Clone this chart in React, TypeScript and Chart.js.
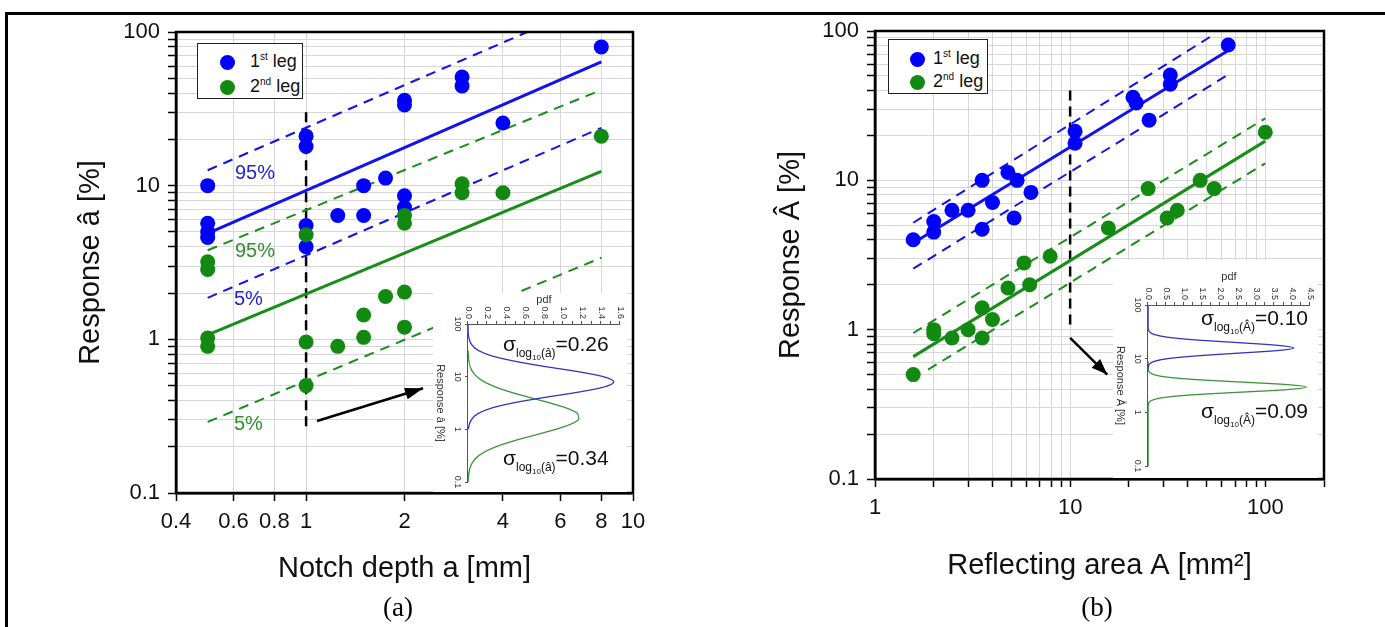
import React, { useEffect, useRef } from 'react';
import { Chart, registerables } from 'chart.js';

Chart.register(...registerables);

const SANS = '"Liberation Sans", Arial, Helvetica, sans-serif';
const SERIF = '"Liberation Serif", "Times New Roman", serif';

const BLUE = '#0000ff';
const GREEN = '#128a12';
const BLUE_LINE = '#1212ee';
const GREEN_LINE = '#1a8c1a';
const BLUE_TEXT = '#2424d4';
const GREEN_TEXT = '#2f8f2f';

// ---------------- (a) response vs notch depth ----------------
const depthBlueA = [0.5, 0.5, 0.5, 0.5, 1, 1, 1, 1, 1.25, 1.5, 1.5, 1.75, 2, 2, 2, 2, 3, 3, 4, 8];
const respBlueA = [10, 5.7, 5.0, 4.6, 21, 18, 5.5, 4.0, 6.4, 10, 6.4, 11.2, 36, 33.5, 8.6, 7.2, 51, 44.6, 25.6, 80];
const depthGreenA = [0.5, 0.5, 0.5, 0.5, 1, 1, 1, 1.25, 1.5, 1.5, 1.75, 2, 2, 2, 2, 3, 3, 4, 8];
const respGreenA = [3.2, 2.85, 1.02, 0.9, 4.8, 0.96, 0.5, 0.9, 1.44, 1.03, 1.9, 6.4, 5.7, 2.03, 1.2, 10.3, 9.0, 9.0, 21];

const fitXA = [0.5, 8];
const blueFitA = [4.9, 64];
const blueUpperXA = [0.5, 4.75];
const blueUpperA = [12.6, 100];
const blueLowerA = [1.86, 23.8];
const greenFitA = [1.07, 12.4];
const greenUpperA = [3.8, 42];
const greenLowerA = [0.29, 3.4];
const markerXA = [1, 1];
const markerYA = [30, 0.27];
const arrowXA = [1.08, 2.28];
const arrowYA = [0.294, 0.48];

// ---------------- (b) response vs reflecting area ----------------
const areaBlueB = [1.57, 2.0, 2.0, 2.48, 3.0, 3.54, 3.54, 4.0, 4.8, 5.35, 5.16, 6.3, 10.6, 10.6, 21, 21.8, 25.4, 32.6, 32.6, 64.6];
const respBlueB = [4.0, 4.5, 5.3, 6.3, 6.3, 4.7, 10, 7.1, 11.3, 10, 5.6, 8.3, 21.3, 17.7, 36, 33, 25.3, 50.7, 44, 80.5];
const areaGreenB = [1.57, 2.0, 2.0, 2.48, 3.0, 3.54, 3.54, 4.0, 4.8, 6.2, 5.8, 7.9, 15.7, 25.1, 31.4, 35.4, 46.4, 54.7, 100];
const respGreenB = [0.5, 1.0, 0.94, 0.88, 1.0, 0.88, 1.4, 1.17, 1.9, 2.0, 2.8, 3.1, 4.8, 8.8, 5.6, 6.3, 10, 8.8, 21];

const blueFitXB = [1.57, 64.6];
const blueFitB = [3.8, 74];
const blueUpperXB = [1.57, 54];
const blueUpperB = [5.2, 94];
const blueLowerXB = [1.57, 66];
const blueLowerB = [2.56, 52];
const greenXB = [1.57, 100];
const greenFitB = [0.66, 18.3];
const greenUpperB = [0.95, 26];
const greenLowerXB = [1.87, 100];
const greenLowerB = [0.54, 13];
const markerXB = [10, 10];
const markerYB = [40, 1.0];
const arrowXB = [10, 15.5];
const arrowYB = [0.88, 0.5];

// ---------------- ticks ----------------
const responseTicks = [0.1, 0.2, 0.3, 0.4, 0.5, 0.6, 0.7, 0.8, 0.9, 1, 2, 3, 4, 5, 6, 7, 8, 9, 10, 20, 30, 40, 50, 60, 70, 80, 90, 100];
const responseLabels = [0.1, 1, 10, 100];
const depthTicks = [0.4, 0.6, 0.8, 1, 2, 4, 6, 8, 10];
const depthLabels = [0.4, 0.6, 0.8, 1, 2, 4, 6, 8, 10];
const areaTicks = [1, 2, 3, 4, 5, 6, 7, 8, 9, 10, 20, 30, 40, 50, 60, 70, 80, 90, 100, 200];
const areaLabels = [1, 10, 100];

// ---------------- insets (pdf of log response) ----------------
const insetRespTicks = [0.1, 1, 10, 100];
const pdfTicksA = [0, 0.1, 0.2, 0.3, 0.4, 0.5, 0.6, 0.7, 0.8, 0.9, 1.0, 1.1, 1.2, 1.3, 1.4, 1.5, 1.6];
const pdfLabelsA = [0, 0.2, 0.4, 0.6, 0.8, 1.0, 1.2, 1.4, 1.6];
const pdfTicksB = [0, 0.25, 0.5, 0.75, 1.0, 1.25, 1.5, 1.75, 2.0, 2.25, 2.5, 2.75, 3.0, 3.25, 3.5, 3.75, 4.0, 4.25, 4.5];
const pdfLabelsB = [0, 0.5, 1.0, 1.5, 2.0, 2.5, 3.0, 3.5, 4.0, 4.5];

const curveRespBlueA = [100, 63.1, 50.1, 39.8, 31.6, 25.1, 20, 15.8, 12.6, 10, 7.94, 6.31, 5.01, 3.98, 3.16, 2.51, 2.0, 1.58, 1.26, 1.0];
const curvePdfBlueA = [0, 0.004, 0.0135, 0.041, 0.107, 0.241, 0.47, 0.788, 1.141, 1.425, 1.534, 1.425, 1.141, 0.788, 0.47, 0.241, 0.107, 0.041, 0.0135, 0.004];
const curveRespGreenA = [31.6, 25.1, 20, 15.8, 12.6, 10, 7.94, 6.31, 5.01, 3.98, 3.16, 2.51, 2.0, 1.58, 1.26, 1.0, 0.794, 0.631, 0.501, 0.398, 0.316, 0.251, 0.2, 0.158, 0.126, 0.1];
const curvePdfGreenA = [0.0012, 0.0033, 0.0087, 0.021, 0.046, 0.093, 0.173, 0.295, 0.461, 0.659, 0.866, 1.043, 1.152, 1.167, 1.084, 0.924, 0.722, 0.518, 0.34, 0.205, 0.113, 0.0575, 0.0268, 0.0114, 0.0045, 0.0016];

const curveRespBlueB = [100, 39.8, 35.5, 31.6, 28.2, 25.1, 22.4, 20, 17.8, 15.8, 14.1, 12.6, 11.2, 10, 8.91, 7.94, 7.08, 6.31];
const curvePdfBlueB = [0, 0.0013, 0.0087, 0.044, 0.175, 0.54, 1.3, 2.45, 3.57, 4.05, 3.57, 2.45, 1.3, 0.54, 0.175, 0.044, 0.0087, 0.0013];
const curveRespGreenB = [8.91, 6.76, 5.89, 5.25, 4.68, 4.17, 3.72, 3.31, 2.95, 2.63, 2.34, 2.09, 1.86, 1.66, 1.48, 1.29, 0.1];
const curvePdfGreenB = [0, 0.0015, 0.017, 0.094, 0.375, 1.105, 2.39, 3.8, 4.4, 3.8, 2.39, 1.105, 0.375, 0.094, 0.017, 0.0015, 0];

// ---------------- helpers ----------------
const zip = (xs: number[], ys: number[]) => xs.map((x, i) => ({ x, y: ys[i] }));

const scatterDs = (label: string, xs: number[], ys: number[], color: string) => ({
  label,
  data: zip(xs, ys),
  backgroundColor: color,
  borderColor: color,
  pointRadius: 7.5,
  pointBorderWidth: 0,
  showLine: false,
});

const lineDs = (label: string, xs: number[], ys: number[], color: string, width: number, dash: number[] = []) => ({
  label,
  data: zip(xs, ys),
  borderColor: color,
  backgroundColor: color,
  borderWidth: width,
  borderDash: dash,
  pointRadius: 0,
  showLine: true,
  fill: false,
});

const framePlugin = {
  id: 'frame',
  afterDatasetsDraw(chart: any) {
    const { ctx, chartArea: a } = chart;
    ctx.save();
    ctx.strokeStyle = '#000';
    ctx.lineWidth = 2.5;
    ctx.strokeRect(a.left, a.top, a.right - a.left, a.bottom - a.top);
    ctx.restore();
  },
};

const arrowPlugin = {
  id: 'arrowHead',
  afterDatasetsDraw(chart: any) {
    const ctx = chart.ctx;
    chart.data.datasets.forEach((ds: any, i: number) => {
      if (!ds.arrowHead) return;
      const pts = chart.getDatasetMeta(i).data;
      const p1 = pts[pts.length - 2];
      const p2 = pts[pts.length - 1];
      const ang = Math.atan2(p2.y - p1.y, p2.x - p1.x);
      const L = ds.arrowHead.length;
      const W = ds.arrowHead.width;
      const bx = p2.x - L * Math.cos(ang);
      const by = p2.y - L * Math.sin(ang);
      ctx.save();
      ctx.fillStyle = ds.borderColor;
      ctx.beginPath();
      ctx.moveTo(p2.x, p2.y);
      ctx.lineTo(bx + W * Math.sin(ang), by - W * Math.cos(ang));
      ctx.lineTo(bx - W * Math.sin(ang), by + W * Math.cos(ang));
      ctx.closePath();
      ctx.fill();
      ctx.restore();
    });
  },
};

function logAxis(ticks: number[], labels: number[], min: number, max: number, title: string) {
  return {
    type: 'logarithmic',
    min,
    max,
    afterBuildTicks: (s: any) => {
      s.ticks = ticks.map((v) => ({ value: v }));
    },
    ticks: {
      autoSkip: false,
      maxRotation: 0,
      minRotation: 0,
      padding: 8,
      color: '#111',
      font: { family: SANS, size: 22 },
      callback: (v: any) => (labels.includes(v) ? String(v) : ''),
    },
    grid: { color: '#d6d6d6', lineWidth: 1, tickColor: '#000', tickLength: 8, tickWidth: 1.5 },
    border: { color: '#000', width: 2.5 },
    title: { display: true, text: title, color: '#111', font: { family: SANS, size: 29 }, padding: 0 },
  };
}

function mainConfig(p: any) {
  return () => ({
    type: 'scatter',
    data: { datasets: p.datasets },
    options: {
      responsive: false,
      animation: false,
      events: [],
      layout: { padding: p.padding },
      plugins: { legend: { display: false }, tooltip: { enabled: false } },
      scales: {
        x: {
          ...logAxis(p.xTicks, p.xLabels, p.xMin, p.xMax, p.xTitle),
          position: 'bottom',
          afterFit: (s: any) => {
            s.height = p.xHeight;
            s.paddingLeft = 0;
            s.paddingRight = 0;
          },
        },
        y: {
          ...logAxis(responseTicks, responseLabels, 0.1, 100, p.yTitle),
          position: 'left',
          afterFit: (s: any) => {
            s.width = p.yWidth;
            s.paddingTop = 0;
            s.paddingBottom = 0;
          },
        },
      },
    },
    plugins: [framePlugin, arrowPlugin],
  });
}

function insetConfig(p: any) {
  return () => ({
    type: 'scatter',
    data: { datasets: p.datasets },
    options: {
      responsive: false,
      animation: false,
      events: [],
      layout: { padding: p.padding },
      plugins: { legend: { display: false }, tooltip: { enabled: false } },
      scales: {
        x: {
          type: 'logarithmic',
          reverse: true,
          min: 0.1,
          max: 100,
          position: 'bottom',
          afterBuildTicks: (s: any) => {
            s.ticks = insetRespTicks.map((v) => ({ value: v }));
          },
          afterFit: (s: any) => {
            s.height = 35;
            s.paddingLeft = 0;
            s.paddingRight = 0;
          },
          ticks: {
            autoSkip: false,
            maxRotation: 0,
            minRotation: 0,
            padding: 2,
            color: '#333',
            font: { family: SANS, size: 9 },
            callback: (v: any) => String(v),
          },
          grid: { drawOnChartArea: false, tickLength: 3, color: '#555' },
          border: { color: '#555', width: 1 },
          title: { display: true, text: p.xTitle, color: '#333', font: { family: SANS, size: 11 }, padding: 0 },
        },
        y: {
          type: 'linear',
          min: 0,
          max: p.pdfMax,
          position: 'left',
          afterBuildTicks: (s: any) => {
            s.ticks = p.pdfTicks.map((v: number) => ({ value: v }));
          },
          afterFit: (s: any) => {
            s.width = p.yWidth;
            s.paddingTop = 0;
            s.paddingBottom = 0;
          },
          ticks: {
            autoSkip: false,
            padding: 2,
            color: '#333',
            font: { family: SANS, size: 9 },
            callback: (v: any) => (p.pdfLabels.includes(v) ? Number(v).toFixed(1) : ''),
          },
          grid: { drawOnChartArea: false, tickLength: 3, color: '#555' },
          border: { color: '#555', width: 1 },
          title: { display: true, text: 'pdf', color: '#333', font: { family: SANS, size: 11 }, padding: 0 },
        },
      },
    },
  });
}

function ChartCanvas({ make, left, top, width, height, rotate }: any) {
  const ref = useRef<HTMLCanvasElement | null>(null);
  useEffect(() => {
    const chart = new Chart(ref.current as HTMLCanvasElement, make());
    return () => chart.destroy();
  }, []);
  const style: any = { position: 'absolute', left, top, width, height };
  if (rotate) {
    style.left = left + height;
    style.transformOrigin = '0 0';
    style.transform = 'rotate(90deg)';
    style.background = '#fff';
  }
  return <canvas ref={ref} width={width} height={height} style={style} />;
}

const dash = [10, 7];

const makeA = mainConfig({
  datasets: [
    scatterDs('2nd leg', depthGreenA, respGreenA, GREEN),
    scatterDs('1st leg', depthBlueA, respBlueA, BLUE),
    lineDs('1st leg fit', fitXA, blueFitA, BLUE_LINE, 3),
    lineDs('1st leg 95%', blueUpperXA, blueUpperA, BLUE_LINE, 2, dash),
    lineDs('1st leg 5%', fitXA, blueLowerA, BLUE_LINE, 2, dash),
    lineDs('2nd leg fit', fitXA, greenFitA, GREEN_LINE, 3),
    lineDs('2nd leg 95%', fitXA, greenUpperA, GREEN_LINE, 2, dash),
    lineDs('2nd leg 5%', fitXA, greenLowerA, GREEN_LINE, 2, dash),
    lineDs('a = 1 mm', markerXA, markerYA, '#000', 2.5, [10, 6]),
    { ...lineDs('arrow', arrowXA, arrowYA, '#000', 2.5), arrowHead: { length: 18, width: 6 } },
  ],
  xTicks: depthTicks,
  xLabels: depthLabels,
  xMin: 0.4,
  xMax: 10,
  xTitle: 'Notch depth a [mm]',
  yTitle: 'Response â [%]',
  padding: { left: 54, right: 17, top: 12, bottom: 14 },
  yWidth: 102,
  xHeight: 93,
});

const makeB = mainConfig({
  datasets: [
    scatterDs('2nd leg', areaGreenB, respGreenB, GREEN),
    scatterDs('1st leg', areaBlueB, respBlueB, BLUE),
    lineDs('1st leg fit', blueFitXB, blueFitB, BLUE_LINE, 3),
    lineDs('1st leg 95%', blueUpperXB, blueUpperB, BLUE_LINE, 2, dash),
    lineDs('1st leg 5%', blueLowerXB, blueLowerB, BLUE_LINE, 2, dash),
    lineDs('2nd leg fit', greenXB, greenFitB, GREEN_LINE, 3),
    lineDs('2nd leg 95%', greenXB, greenUpperB, GREEN_LINE, 2, dash),
    lineDs('2nd leg 5%', greenLowerXB, greenLowerB, GREEN_LINE, 2, dash),
    lineDs('A = 10 mm2', markerXB, markerYB, '#000', 2.5, [10, 6]),
    { ...lineDs('arrow', arrowXB, arrowYB, '#000', 2.5), arrowHead: { length: 16, width: 6 } },
  ],
  xTicks: areaTicks,
  xLabels: areaLabels,
  xMin: 1,
  xMax: 200,
  xTitle: 'Reflecting area A [mm²]',
  yTitle: 'Response Â [%]',
  padding: { left: 54, right: 26, top: 11, bottom: 17 },
  yWidth: 101,
  xHeight: 104,
});

const curveDs = (label: string, xs: number[], ys: number[], color: string) => ({
  label,
  data: zip(xs, ys),
  borderColor: color,
  borderWidth: 1.3,
  pointRadius: 0,
  showLine: true,
  fill: false,
  cubicInterpolationMode: 'monotone',
});

const makeInsetA = insetConfig({
  datasets: [
    curveDs('1st leg pdf', curveRespBlueA, curvePdfBlueA, '#3434c4'),
    curveDs('2nd leg pdf', curveRespGreenA, curvePdfGreenA, '#3b943b'),
  ],
  xTitle: 'Response â [%]',
  pdfMax: 1.6,
  pdfTicks: pdfTicksA,
  pdfLabels: pdfLabelsA,
  yWidth: 31,
  padding: { left: 0, top: 7, right: 10, bottom: 0 },
});

const makeInsetB = insetConfig({
  datasets: [
    curveDs('1st leg pdf', curveRespBlueB, curvePdfBlueB, '#3434c4'),
    curveDs('2nd leg pdf', curveRespGreenB, curvePdfGreenB, '#3b943b'),
  ],
  xTitle: 'Response Â [%]',
  pdfMax: 4.5,
  pdfTicks: pdfTicksB,
  pdfLabels: pdfLabelsB,
  yWidth: 35,
  padding: { left: 10, top: 8, right: 12, bottom: 0 },
});

function Sigma({ left, top, arg, value }: any) {
  return (
    <div style={{ position: 'absolute', left, top, fontFamily: SANS, fontSize: 21, lineHeight: '21px', whiteSpace: 'nowrap', color: '#111' }}>
      σ
      <span style={{ fontSize: 12, position: 'relative', top: 6 }}>
        log
        <span style={{ fontSize: 8, position: 'relative', top: 3 }}>10</span>({arg})
      </span>
      ={value}
    </div>
  );
}

function Legend({ left, top, width, height, dotX, textX, rowY }: any) {
  const rows = [
    { color: BLUE, sup: 'st', n: '1' },
    { color: GREEN, sup: 'nd', n: '2' },
  ];
  return (
    <>
      <div style={{ position: 'absolute', left, top, width, height, border: '1px solid #222', boxSizing: 'border-box', background: '#fff' }} />
      {rows.map((r, i) => (
        <React.Fragment key={i}>
          <div style={{ position: 'absolute', left: dotX - 7.5, top: rowY[i] - 7.5, width: 15, height: 15, borderRadius: '50%', background: r.color }} />
          <div style={{ position: 'absolute', left: textX, top: rowY[i] - 11, fontFamily: SANS, fontSize: 18, lineHeight: '20px', whiteSpace: 'nowrap', color: '#111' }}>
            {r.n}
            <span style={{ fontSize: 10, position: 'relative', top: -7 }}>{r.sup}</span> leg
          </div>
        </React.Fragment>
      ))}
    </>
  );
}

function Label({ left, top, color, text }: any) {
  return (
    <div style={{ position: 'absolute', left, top, fontFamily: SANS, fontSize: 20, lineHeight: '20px', color, whiteSpace: 'nowrap' }}>{text}</div>
  );
}

export default function App() {
  return (
    <div style={{ position: 'absolute', left: 0, top: 0, width: 1385, height: 627, background: '#fff', overflow: 'hidden' }}>
      <div style={{ position: 'absolute', left: 5, top: 12, width: 1380, height: 3, background: '#000' }} />
      <div style={{ position: 'absolute', left: 5, top: 12, width: 3, height: 615, background: '#000' }} />

      <ChartCanvas make={makeA} left={20} top={20} width={630} height={580} />
      <ChartCanvas make={makeB} left={720} top={20} width={630} height={580} />

      <ChartCanvas make={makeInsetA} left={433} top={293} width={199} height={194} rotate />
      <ChartCanvas make={makeInsetB} left={1113} top={260} width={218} height={205} rotate />

      <Legend left={197} top={43} width={106} height={56} dotX={227} textX={250} rowY={[62, 87]} />
      <Legend left={888} top={39} width={100} height={55} dotX={917} textX={933} rowY={[59, 82]} />

      <Label left={235} top={162} color={BLUE_TEXT} text="95%" />
      <Label left={235} top={240} color={GREEN_TEXT} text="95%" />
      <Label left={234} top={288} color={BLUE_TEXT} text="5%" />
      <Label left={234} top={413} color={GREEN_TEXT} text="5%" />

      <Sigma left={503} top={333} arg="â" value="0.26" />
      <Sigma left={503} top={447} arg="â" value="0.34" />
      <Sigma left={1201} top={307} arg="Â" value="0.10" />
      <Sigma left={1201} top={400} arg="Â" value="0.09" />

      <div style={{ position: 'absolute', left: 348, top: 592, width: 100, textAlign: 'center', fontFamily: SERIF, fontSize: 27, lineHeight: '30px', color: '#000' }}>(a)</div>
      <div style={{ position: 'absolute', left: 1047, top: 592, width: 100, textAlign: 'center', fontFamily: SERIF, fontSize: 27, lineHeight: '30px', color: '#000' }}>(b)</div>
    </div>
  );
}
